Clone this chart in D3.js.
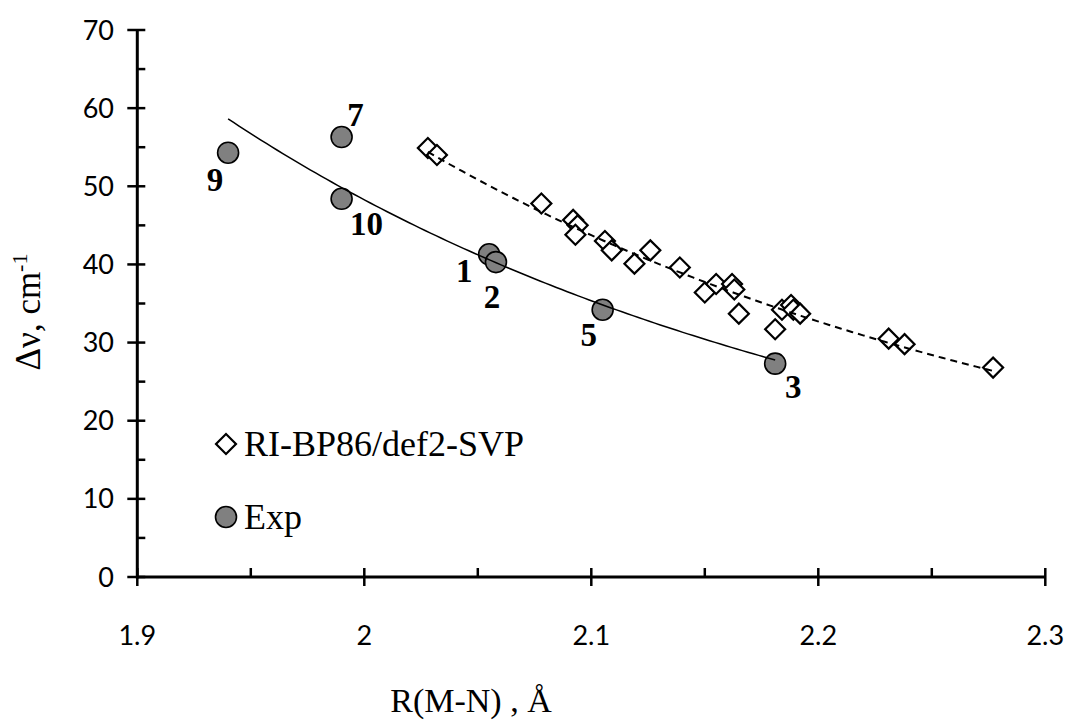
<!DOCTYPE html>
<html><head><meta charset="utf-8">
<script src="https://cdn.jsdelivr.net/npm/d3@7"></script>
<style>body{margin:0;background:#fff}</style>
</head><body>
<svg id="chart" width="1073" height="728"></svg>
<script>
// ---- data ----
const xTickValues = [1.9, 2.0, 2.1, 2.2, 2.3];
const xTickLabels = ["1.9", "2", "2.1", "2.2", "2.3"];
const yTickValues = [0, 10, 20, 30, 40, 50, 60, 70];
const yTickLabels = ["0", "10", "20", "30", "40", "50", "60", "70"];

const expLabels = ["1", "2", "3", "5", "7", "9", "10"];
const expR  = [2.055, 2.058, 2.181, 2.105, 1.990, 1.940, 1.990];
const expDv = [41.3, 40.3, 27.3, 34.2, 56.3, 54.3, 48.4];

const calcR  = [2.028, 2.032, 2.078, 2.092, 2.094, 2.093, 2.106, 2.109, 2.119, 2.126, 2.139, 2.150,
                2.155, 2.162, 2.163, 2.165, 2.181, 2.184, 2.188, 2.189, 2.192, 2.231, 2.238, 2.277];
const calcDv = [54.9, 54.0, 47.8, 45.7, 45.0, 43.8, 43.0, 41.8, 40.1, 41.8, 39.6, 36.4,
                37.5, 37.5, 36.8, 33.7, 31.7, 34.2, 34.8, 34.2, 33.7, 30.5, 29.8, 26.8];

const seriesNames = ["RI-BP86/def2-SVP", "Exp"];

// label offsets in pixels (layout)
const labelOffsets = {"1":[-25,17], "2":[-4,35], "3":[18,23], "5":[-14,25], "7":[14,-22], "9":[-13,27], "10":[25,25]};

// ---- layout ----
const svg = d3.select("#chart");
svg.append("rect").attr("width",1073).attr("height",728).attr("fill","#fff");

const x = d3.scaleLinear().domain([1.9, 2.3]).range([137.3, 1045.3]);
const y = d3.scaleLinear().domain([0, 70]).range([577, 30]);

// power fit y = a*x^b (log-log least squares), like a spreadsheet trendline
function powerFit(xs, ys) {
  const lx = xs.map(Math.log), ly = ys.map(Math.log);
  const mx = d3.mean(lx), my = d3.mean(ly);
  let sxy = 0, sxx = 0;
  lx.forEach((v, i) => { sxy += (v - mx) * (ly[i] - my); sxx += (v - mx) * (v - mx); });
  const b = sxy / sxx, a = Math.exp(my - b * mx);
  return v => a * Math.pow(v, b);
}
function trendPoints(xs, ys) {
  const f = powerFit(xs, ys);
  const [lo, hi] = d3.extent(xs);
  return d3.range(0, 101).map(i => { const v = lo + (hi - lo) * i / 100; return [v, f(v)]; });
}

const serif = "'Liberation Serif','Times New Roman',serif";
const sans = "Lato,'Open Sans',sans-serif";

// ---- axes ----
const axisG = svg.append("g");
const xMinor = [1.95, 2.05, 2.15, 2.25];
axisG.selectAll(".xm").data(xMinor).join("line")
  .attr("x1", d => x(d)).attr("x2", d => x(d)).attr("y1", y(0)).attr("y2", y(0) - 9)
  .attr("stroke", "#000").attr("stroke-width", 2.5);
axisG.selectAll(".xM").data(xTickValues).join("line")
  .attr("x1", d => x(d)).attr("x2", d => x(d)).attr("y1", y(0) - 9).attr("y2", y(0) + 9)
  .attr("stroke", "#000").attr("stroke-width", 2.5);
const yMinor = [5, 15, 25, 35, 45, 55, 65];
axisG.selectAll(".ym").data(yMinor).join("line")
  .attr("x1", x(1.9)).attr("x2", x(1.9) + 8).attr("y1", d => y(d)).attr("y2", d => y(d))
  .attr("stroke", "#000").attr("stroke-width", 2.5);
axisG.selectAll(".yM").data(yTickValues).join("line")
  .attr("x1", x(1.9) - 10).attr("x2", x(1.9) + 8).attr("y1", d => y(d)).attr("y2", d => y(d))
  .attr("stroke", "#000").attr("stroke-width", 2.5);
axisG.append("line").attr("x1", x(1.9)).attr("x2", x(2.3)).attr("y1", y(0)).attr("y2", y(0))
  .attr("stroke", "#000").attr("stroke-width", 3);
axisG.append("line").attr("x1", x(1.9)).attr("x2", x(1.9)).attr("y1", y(0) + 1.5).attr("y2", y(70))
  .attr("stroke", "#000").attr("stroke-width", 3);

axisG.selectAll(".xl").data(xTickValues).join("text")
  .attr("x", d => x(d)).attr("y", 645).attr("text-anchor", "middle")
  .attr("font-family", sans).attr("font-size", 27).attr("fill", "#000")
  .text((d, i) => xTickLabels[i]);
axisG.selectAll(".yl").data(yTickValues).join("text")
  .attr("x", 114).attr("y", d => y(d) + 9.5).attr("text-anchor", "end")
  .attr("font-family", sans).attr("font-size", 27).attr("fill", "#000")
  .text((d, i) => yTickLabels[i]);

// axis titles
svg.append("text").attr("x", 471).attr("y", 712).attr("text-anchor", "middle")
  .attr("font-family", serif).attr("font-size", 34).attr("fill", "#000")
  .text("R(M-N) , Å");
const yt = svg.append("text").attr("transform", "translate(40,312) rotate(-90)")
  .attr("text-anchor", "middle").attr("font-family", serif).attr("font-size", 35).attr("fill", "#000");
yt.append("tspan").text("Δν, cm");
yt.append("tspan").attr("font-size", 22).attr("dy", -13).text("-1");

// ---- markers ----
const diamond = d3.symbol().type(d3.symbolSquare).size(200);
const calc = calcR.map((r, i) => ({r, v: calcDv[i]}));
svg.append("g").selectAll("path").data(calc).join("path")
  .attr("d", diamond)
  .attr("transform", d => `translate(${x(d.r)},${y(d.v)}) rotate(45)`)
  .attr("fill", "#fff").attr("stroke", "#000").attr("stroke-width", 2.2);

const exp = expR.map((r, i) => ({r, v: expDv[i], label: expLabels[i]}));
svg.append("g").selectAll("circle").data(exp).join("circle")
  .attr("cx", d => x(d.r)).attr("cy", d => y(d.v)).attr("r", 10.5)
  .attr("fill", "#808080").attr("stroke", "#000").attr("stroke-width", 1.6);

// ---- trendlines ----
const line = d3.line().x(d => x(d[0])).y(d => y(d[1]));
svg.append("path").attr("d", line(trendPoints(expR, expDv)))
  .attr("fill", "none").attr("stroke", "#000").attr("stroke-width", 1.5);
svg.append("path").attr("d", line(trendPoints(calcR, calcDv)))
  .attr("fill", "none").attr("stroke", "#000").attr("stroke-width", 2).attr("stroke-dasharray", "7,5");

// ---- point labels ----
svg.append("g").selectAll("text").data(exp).join("text")
  .attr("x", d => x(d.r) + labelOffsets[d.label][0])
  .attr("y", d => y(d.v) + labelOffsets[d.label][1] + 11)
  .attr("text-anchor", "middle").attr("font-family", serif).attr("font-weight", "bold")
  .attr("font-size", 33).attr("fill", "#000")
  .text(d => d.label);

// ---- legend ----
const lg = svg.append("g");
lg.append("path").attr("d", diamond).attr("transform", "translate(226,444) rotate(45)")
  .attr("fill", "#fff").attr("stroke", "#000").attr("stroke-width", 2.2);
lg.append("text").attr("x", 244).attr("y", 456).attr("font-family", serif).attr("font-size", 36)
  .attr("fill", "#000").text(seriesNames[0]);
lg.append("circle").attr("cx", 226).attr("cy", 517).attr("r", 10.5)
  .attr("fill", "#808080").attr("stroke", "#000").attr("stroke-width", 1.6);
lg.append("text").attr("x", 244).attr("y", 529).attr("font-family", serif).attr("font-size", 36)
  .attr("fill", "#000").text(seriesNames[1]);
</script>
</body></html>
